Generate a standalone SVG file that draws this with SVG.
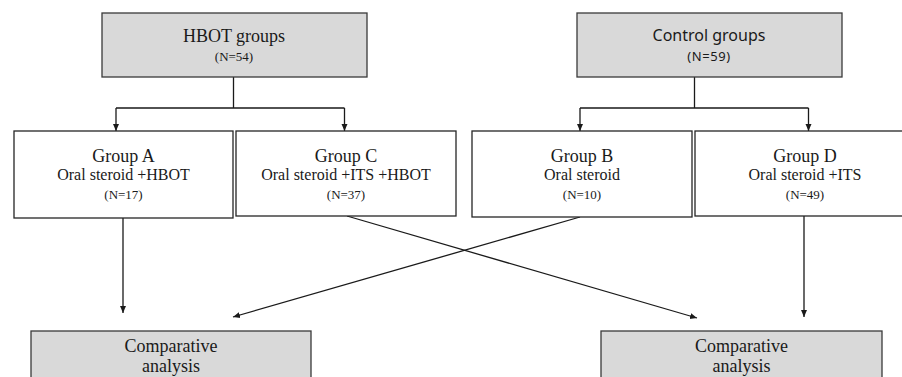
<svg xmlns="http://www.w3.org/2000/svg" width="902" height="377" viewBox="0 0 902 377">
<style>
.box{fill:#ffffff;stroke:#262626;stroke-width:1.3}
.gbox{fill:#d9d9d9;stroke:#3a3a3a;stroke-width:1.3}
.ln{fill:none;stroke:#1a1a1a;stroke-width:1.3}
.arr{fill:none;stroke:#1a1a1a;stroke-width:1.3;marker-end:url(#ah)}
text{font-family:"Liberation Serif","Times New Roman",serif;fill:#1a1a1a;text-anchor:middle}
.t1{font-size:18px}
.t2{font-size:16px}
.t3{font-size:13px}
.s1{font-family:"Noto Sans","DejaVu Sans",sans-serif;font-size:16px}
.s3{font-family:"Noto Sans","DejaVu Sans",sans-serif;font-size:13px;letter-spacing:0.6px}
</style>
<defs>
<marker id="ah" markerWidth="8" markerHeight="8" refX="7" refY="4" orient="auto" markerUnits="userSpaceOnUse">
<path d="M0,1 L7,4 L0,7 Z" fill="#1a1a1a"/>
</marker>
</defs>
<rect width="902" height="377" fill="#ffffff"/>
<g id="connectors">
<path class="ln" d="M233.5,77 V108 M116,108 H344.5"/>
<path class="arr" d="M116,108 V131"/>
<path class="arr" d="M344.5,108 V131"/>
<path class="ln" d="M694.5,77 V108 M580,108 H808.5"/>
<path class="arr" d="M580,108 V131"/>
<path class="arr" d="M808.5,108 V131"/>
<path class="arr" d="M123,218 V313"/>
<path class="arr" d="M347,216 L697,318"/>
<path class="arr" d="M580,217 L233,317"/>
<path class="arr" d="M804,216 V317"/>
</g>
<g id="hbot">
<rect class="gbox" x="102" y="13" width="265" height="64"/>
<text class="t1" x="234" y="42">HBOT groups</text>
<text class="t3" x="234" y="61">(N=54)</text>
</g>
<g id="control">
<rect class="gbox" x="577" y="13" width="265" height="64"/>
<text class="s1" x="709" y="41">Control groups</text>
<text class="s3" x="709" y="61">(N=59)</text>
</g>
<g id="groupA">
<rect class="box" x="14" y="131" width="219" height="87"/>
<text class="t1" x="123.5" y="162">Group A</text>
<text class="t2" x="123.5" y="180">Oral steroid +HBOT</text>
<text class="t3" x="123.5" y="199">(N=17)</text>
</g>
<g id="groupC">
<rect class="box" x="236" y="131" width="220" height="85"/>
<text class="t1" x="346" y="162">Group C</text>
<text class="t2" x="346" y="180">Oral steroid +ITS +HBOT</text>
<text class="t3" x="346" y="199">(N=37)</text>
</g>
<g id="groupB">
<rect class="box" x="472" y="131" width="220" height="86"/>
<text class="t1" x="582" y="162">Group B</text>
<text class="t2" x="582" y="180">Oral steroid</text>
<text class="t3" x="582" y="199">(N=10)</text>
</g>
<g id="groupD">
<rect class="box" x="695" y="131" width="220" height="85"/>
<text class="t1" x="805" y="162">Group D</text>
<text class="t2" x="805" y="180">Oral steroid +ITS</text>
<text class="t3" x="805" y="199">(N=49)</text>
</g>
<g id="compLeft">
<rect class="gbox" x="31" y="331" width="280" height="60"/>
<text class="t1" x="171" y="352">Comparative</text>
<text class="t1" x="171" y="372">analysis</text>
</g>
<g id="compRight">
<rect class="gbox" x="601" y="331" width="281" height="60"/>
<text class="t1" x="741.5" y="352">Comparative</text>
<text class="t1" x="741.5" y="372">analysis</text>
</g>
</svg>
